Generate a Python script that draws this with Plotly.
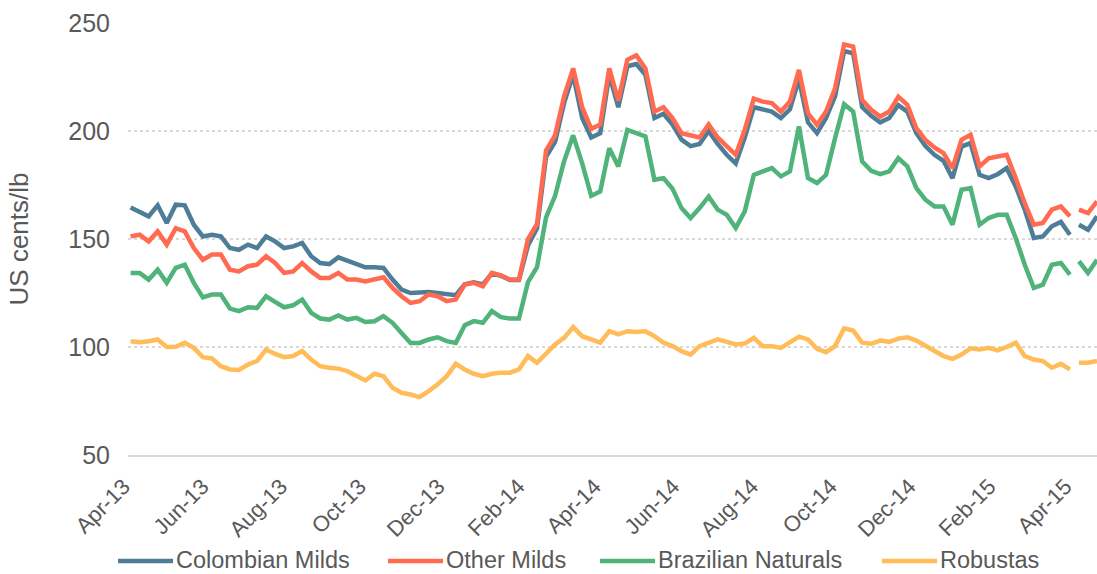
import pandas as pd
import plotly.graph_objects as go

# Weekly readings, starting 1 Apr 2013
start_date = "2013-04-01"
n_weeks = 108
gap_date = "2015-04-03"   # holiday gap in the daily series
gap_index = 105

colombian_milds = [
    164.6, 162.8, 160.5, 165.6, 157.4, 165.9, 165.6, 156.6, 151.2, 152.0,
    151.2, 145.8, 145.0, 147.4, 145.8, 151.2, 148.9, 145.8, 146.6, 148.2,
    142.0, 138.9, 138.4, 141.5, 140.0, 138.4, 136.9, 136.9, 136.6, 131.2,
    126.6, 125.0, 125.5, 125.5, 125.0, 124.3, 124.0, 129.0, 130.0, 129.0,
    134.0, 133.0, 131.0, 131.0, 147.0, 155.0, 188.0, 195.0, 213.0, 226.0,
    206.0, 197.0, 199.0, 226.0, 211.0, 230.0, 231.0, 226.0, 206.0, 208.0,
    203.0, 196.0, 193.0, 194.0, 200.0, 194.0, 189.0, 185.0, 197.0, 211.0,
    210.0, 209.0, 206.0, 210.0, 224.0, 204.0, 199.0, 206.0, 216.0, 237.0,
    236.0, 211.0, 207.0, 204.0, 206.0, 212.0, 209.0, 199.0, 193.0, 189.0,
    186.2, 178.2, 192.8, 194.4, 179.7, 178.2, 180.0, 182.8, 174.3, 163.6,
    150.5, 151.2, 155.9, 157.9, 152.0, 156.6, 154.3, 160.5,
]
other_milds = [
    151.2, 152.0, 148.9, 153.5, 147.4, 155.0, 153.5, 145.8, 140.4, 142.8,
    142.8, 135.8, 135.0, 137.4, 138.1, 142.0, 138.9, 134.3, 135.0, 138.9,
    135.0, 132.0, 132.0, 134.3, 131.2, 131.2, 130.4, 131.2, 132.3, 127.4,
    123.5, 120.4, 121.2, 124.3, 123.5, 121.2, 122.0, 128.9, 129.7, 128.1,
    134.3, 133.2, 131.2, 131.2, 150.0, 157.0, 191.0, 198.0, 216.0, 229.0,
    211.0, 201.0, 203.0, 229.0, 214.0, 233.0, 235.0, 229.0, 209.0, 211.0,
    206.0, 199.0, 198.0, 197.0, 203.0, 197.0, 193.0, 189.0, 200.5, 215.0,
    213.6, 212.9, 209.0, 213.6, 228.3, 208.2, 202.9, 209.0, 219.8, 240.1,
    239.1, 214.4, 209.8, 206.7, 209.0, 215.9, 212.1, 201.3, 195.9, 192.4,
    189.8, 182.8, 195.9, 198.2, 183.6, 187.4, 188.2, 189.0, 178.2, 166.6,
    156.6, 157.4, 163.6, 165.1, 160.5, 163.6, 162.0, 167.4,
]
brazilian_naturals = [
    134.3, 134.3, 131.2, 135.8, 129.7, 136.6, 138.1, 129.7, 123.0, 124.3,
    124.3, 117.8, 116.6, 118.4, 118.1, 123.5, 120.9, 118.4, 119.3, 122.0,
    115.8, 113.2, 112.7, 114.6, 112.7, 113.5, 111.6, 111.9, 114.3, 111.2,
    106.5, 101.9, 101.9, 103.5, 104.5, 102.7, 101.9, 110.1, 112.0, 111.2,
    116.6, 113.8, 113.2, 113.2, 130.0, 137.0, 160.0, 170.0, 186.0, 198.0,
    185.0, 170.0, 172.0, 192.0, 183.6, 200.5, 199.0, 197.5, 177.4, 178.2,
    173.3, 164.3, 159.7, 164.3, 169.7, 163.6, 161.2, 155.1, 162.8, 179.7,
    181.3, 182.8, 179.0, 181.3, 202.1, 178.2, 175.9, 179.7, 196.7, 212.4,
    209.0, 185.9, 181.6, 180.0, 181.3, 187.4, 183.6, 173.6, 168.2, 165.1,
    165.1, 156.6, 172.8, 173.6, 156.6, 159.7, 161.2, 161.2, 150.5, 138.1,
    127.4, 128.9, 138.1, 138.9, 133.5, 139.7, 134.3, 140.4,
]
robustas = [
    102.7, 102.2, 102.7, 103.5, 100.0, 100.1, 102.0, 99.6, 95.3, 94.7,
    91.1, 89.6, 89.4, 91.9, 93.5, 98.8, 96.8, 95.3, 95.8, 98.1,
    94.2, 91.1, 90.4, 90.0, 88.8, 86.5, 84.5, 87.6, 86.5, 81.1,
    78.8, 78.0, 76.8, 79.6, 82.7, 86.5, 92.2, 89.6, 87.6, 86.5,
    87.6, 88.1, 88.1, 89.6, 95.8, 92.7, 96.6, 101.2, 104.2, 109.2,
    105.0, 103.5, 102.0, 107.3, 105.8, 107.3, 107.0, 107.3, 105.0, 102.0,
    100.4, 98.1, 96.5, 100.4, 102.0, 103.5, 102.4, 101.2, 101.6, 104.2,
    100.4, 100.4, 99.6, 102.0, 104.8, 103.5, 99.2, 97.6, 100.4, 108.6,
    107.6, 102.0, 101.5, 103.0, 102.4, 103.9, 104.5, 103.0, 100.4, 98.1,
    95.8, 94.5, 96.5, 99.4, 98.8, 99.6, 98.4, 100.0, 102.0, 95.8,
    94.2, 93.5, 90.4, 92.2, 89.6, 92.7, 92.7, 93.5,
]

series_names = ["Colombian Milds", "Other Milds", "Brazilian Naturals", "Robustas"]
series_values = [colombian_milds, other_milds, brazilian_naturals, robustas]
series_colors = ["#4E7E97", "#FF6A50", "#4FB37A", "#FFBC58"]

dates = list(pd.date_range(start_date, periods=n_weeks, freq="7D"))
x_vals = dates[:gap_index] + [pd.Timestamp(gap_date)] + dates[gap_index:]

FONT = "Liberation Sans, Arial, sans-serif"
TXT = "#595959"
W, H = 1097, 574
ML, MR, MT, MB = 128, 0, 23, 119
PW, PH = W - ML - MR, H - MT - MB

fig = go.Figure()
for name, vals, col in zip(series_names, series_values, series_colors):
    y_vals = vals[:gap_index] + [None] + vals[gap_index:]
    fig.add_trace(go.Scatter(
        x=x_vals, y=y_vals, name=name, mode="lines",
        line=dict(color=col, width=4.5), connectgaps=False,
        showlegend=False,
    ))

# Custom legend (pixel positions of the sample line start for each entry)
legend_line_x = [118, 388, 600, 882]
legend_line_len = 55
legend_line_y_px = 561
legend_text_bottom_px = 573

def px_x(p):
    return (p - ML) / PW

def px_y(p):
    return (H - MB - p) / PH

for name, col, lx in zip(series_names, series_colors, legend_line_x):
    fig.add_shape(type="line", xref="paper", yref="paper",
                  x0=px_x(lx), x1=px_x(lx + legend_line_len),
                  y0=px_y(legend_line_y_px), y1=px_y(legend_line_y_px),
                  line=dict(color=col, width=4.5))
    fig.add_annotation(xref="paper", yref="paper",
                       x=px_x(lx + legend_line_len + 3), y=px_y(legend_text_bottom_px),
                       text=name, showarrow=False, xanchor="left", yanchor="bottom",
                       borderpad=0, borderwidth=0,
                       font=dict(size=23.5, color=TXT, family=FONT))

fig.update_layout(
    width=W, height=H,
    margin=dict(l=ML, r=MR, t=MT, b=MB),
    paper_bgcolor="white", plot_bgcolor="white",
    font=dict(family=FONT, color=TXT, size=23),
    showlegend=False,
)
fig.update_xaxes(
    type="date", range=["2013-03-30", "2015-04-20"],
    tick0="2013-04-01", dtick="M2", tickformat="%b-%y", tickangle=-45,
    showgrid=False, showline=True, linecolor="#D9D9D9", linewidth=2,
    ticks="", ticklabelstandoff=8, ticklabelshift=-7,
    tickfont=dict(size=22, color=TXT), zeroline=False, automargin=False,
)
fig.update_yaxes(
    range=[50, 250], dtick=50, tick0=50,
    showgrid=True, gridcolor="#D9D9D9", gridwidth=2, griddash="dot",
    ticks="", ticklabelstandoff=17,
    tickfont=dict(size=25, color=TXT), zeroline=False, automargin=False,
    title=dict(text="US cents/lb", font=dict(size=26, color=TXT), standoff=32),
)

fig.write_html(
    "out.html",
    config={"displayModeBar": False},
    post_script="document.body.style.margin='0';document.body.style.overflow='hidden';",
)
